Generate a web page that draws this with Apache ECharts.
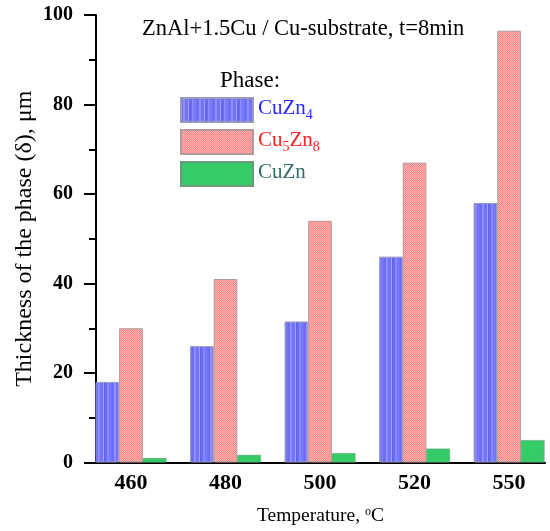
<!DOCTYPE html>
<html>
<head>
<meta charset="utf-8">
<script src="https://cdn.jsdelivr.net/npm/echarts@6/dist/echarts.min.js"></script>
<style>html,body{margin:0;padding:0;background:#fff}#c{width:550px;height:531px}</style>
</head>
<body>
<div id="c"></div>
<script>
// ---- data ----
var categories = ['460', '480', '500', '520', '550'];
var cuZn4 = [18, 26, 31.5, 46, 58];
var cu5Zn8 = [30, 41, 54, 67, 96.5];
var cuZn = [1.0, 1.7, 2.1, 3.1, 5.0];
var yTicks = [0, 20, 40, 60, 80, 100];

var FONT = '"Liberation Serif", "Times New Roman", serif';

function makePattern(w, h, draw) {
  var c = document.createElement('canvas');
  c.width = w; c.height = h;
  draw(c.getContext('2d'));
  return { image: c, repeat: 'repeat' };
}
var bluePattern = makePattern(16, 4, function (g) {
  var cols = ['#6a6af4','#6e6ef6','#9292ff','#8c8cff','#7474f9','#7070f8','#7777fa','#a0a0ff',
              '#6464ef','#6868f1','#6c6cf3','#8a8aff','#8585ff','#7575fa','#7a7afc','#7070f7'];
  for (var i = 0; i < 16; i++) { g.fillStyle = cols[i]; g.fillRect(i, 0, 1, 4); }
});
var pinkPattern = makePattern(2, 2, function (g) {
  g.fillStyle = '#ffb4b4'; g.fillRect(0, 0, 2, 2);
  g.fillStyle = '#ff8585'; g.fillRect(0, 0, 1, 1); g.fillRect(1, 1, 1, 1);
});

function toPairs(arr) { return arr.map(function (v, i) { return [i, v]; }); }

var chart = echarts.init(document.getElementById('c'), null, { renderer: 'canvas' });
chart.setOption({
  animation: false,
  backgroundColor: '#fff',
  title: [
    { text: 'ZnAl+1.5Cu / Cu-substrate, t=8min', left: 137, top: 13,
      textStyle: { fontFamily: FONT, fontSize: 22.5, fontWeight: 'normal', color: '#000' } },
    { text: 'Phase:', left: 215, top: 64,
      textStyle: { fontFamily: FONT, fontSize: 23, fontWeight: 'normal', color: '#000' } }
  ],
  legend: {
    orient: 'vertical', left: 180, top: 97, itemWidth: 72, itemHeight: 24, itemGap: 6,
    padding: 0,
    icon: 'rect',
    data: ['CuZn4', 'Cu5Zn8', 'CuZn'],
    formatter: function (n) {
      if (n === 'CuZn4') return '{b|CuZn}{bs|4}';
      if (n === 'Cu5Zn8') return '{r|Cu}{rs|5}{r|Zn}{rs|8}';
      return '{g|CuZn}';
    },
    textStyle: {
      fontFamily: FONT,
      rich: {
        b: { fontFamily: FONT, fontSize: 21, color: '#2828ff', verticalAlign: 'bottom', padding: [0, 0, 4, 0] },
        bs: { fontFamily: FONT, fontSize: 14, color: '#2828ff', verticalAlign: 'bottom' },
        r: { fontFamily: FONT, fontSize: 21, color: '#ff2222', verticalAlign: 'bottom', padding: [0, 0, 4, 0] },
        rs: { fontFamily: FONT, fontSize: 14, color: '#ff2222', verticalAlign: 'bottom' },
        g: { fontFamily: FONT, fontSize: 21, color: '#2f6e6a', verticalAlign: 'bottom', padding: [0, 0, 4, 0] }
      }
    }
  },
  grid: { left: 96, right: 5, top: 15, bottom: 68, containLabel: false },
  xAxis: {
    type: 'value', min: -0.37, max: 4.38,
    name: 'Temperature, {sup|o}C', nameLocation: 'middle', nameGap: 43, nameMoveOverlap: false,
    nameTextStyle: {
      fontFamily: FONT, fontSize: 19.5, color: '#000',
      rich: {
        sup: { fontFamily: FONT, fontSize: 12, color: '#000', verticalAlign: 'bottom', padding: [0, 0, 9, 0] }
      }
    },
    axisLine: { show: true, onZero: false, lineStyle: { color: '#000', width: 2 } },
    axisTick: { show: false },
    splitLine: { show: false },
    axisLabel: {
      customValues: [0, 1, 2, 3, 4],
      formatter: function (v) { return categories[Math.round(v)]; },
      fontFamily: FONT, fontSize: 22, fontWeight: 'bold', color: '#000', margin: 10
    }
  },
  yAxis: {
    type: 'value', min: 0, max: 100, interval: 20,
    name: 'Thickness of the phase (\u03b4), \u03bcm', nameLocation: 'middle', nameGap: 59, nameMoveOverlap: false,
    nameTextStyle: { fontFamily: FONT, fontSize: 24, color: '#000' },
    axisLine: { show: true, onZero: false, lineStyle: { color: '#000', width: 2 } },
    axisTick: { show: true, inside: false, length: 12, lineStyle: { color: '#000', width: 2 } },
    minorTick: { show: true, splitNumber: 2, length: 7, lineStyle: { color: '#000', width: 2 } },
    splitLine: { show: false },
    minorSplitLine: { show: false },
    axisLabel: {
      customValues: yTicks,
      fontFamily: FONT, fontSize: 20, fontWeight: 'bold', color: '#000', margin: 23
    }
  },
  series: [
    { name: 'CuZn4', type: 'bar', data: toPairs(cuZn4), barGap: '0%', barCategoryGap: '25%',
      itemStyle: { color: bluePattern, borderColor: '#9a9ab8', borderWidth: 1 } },
    { name: 'Cu5Zn8', type: 'bar', data: toPairs(cu5Zn8), barGap: '0%', barCategoryGap: '25%',
      itemStyle: { color: pinkPattern, borderColor: '#b09a9a', borderWidth: 1 } },
    { name: 'CuZn', type: 'bar', data: toPairs(cuZn), barGap: '0%', barCategoryGap: '25%',
      itemStyle: { color: '#35cc68', borderColor: '#6a9a7a', borderWidth: 0.5 } }
  ]
});
</script>
</body>
</html>
